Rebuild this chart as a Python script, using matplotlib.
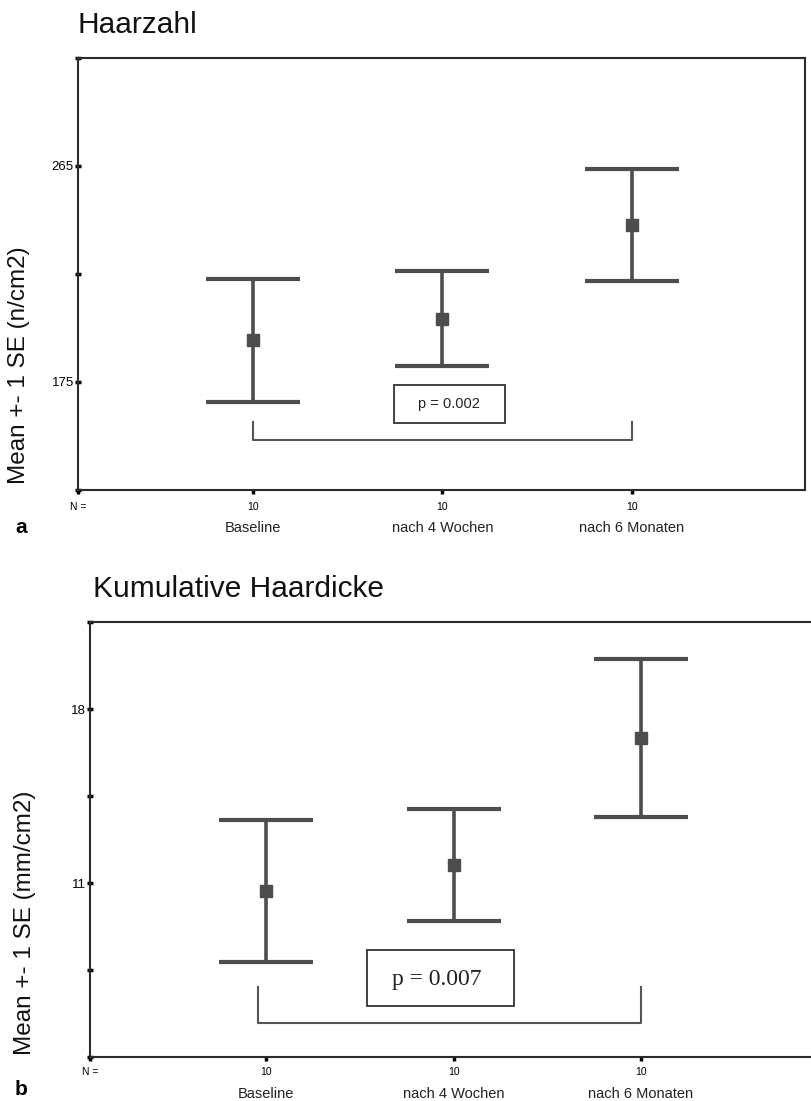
""" Mean +- 1 SE error bar charts: Haarzahl and kumulative Haardicke """

import matplotlib
matplotlib.use('Agg')
import matplotlib.pyplot as plt
from matplotlib.patches import Rectangle

plt.rcParams['font.family'] = ['Liberation Sans', 'DejaVu Sans']

categories = ['Baseline', 'nach 4 Wochen', 'nach 6 Monaten']
n_values = [10, 10, 10]

# panel a - Haarzahl (n/cm2)
haarzahl_mean = [192.3, 201.4, 240.5]
haarzahl_se = [25.5, 19.7, 23.3]
haarzahl_ticks = [130, 175, 220, 265, 310]
haarzahl_ticklabels = ['', '175', '', '265', '']
p_haarzahl = 'p = 0.002'

# panel b - kumulative Haardicke (mm/cm2)
dicke_mean = [10.67, 11.73, 16.82]
dicke_se = [2.86, 2.25, 3.18]
dicke_ticks = [4, 7.5, 11, 14.5, 18, 21.5]
dicke_ticklabels = ['', '', '11', '', '18', '']
p_dicke = 'p = 0.007'

W, H = 811, 1101
bar_col = '#4d4d4d'
spine_col = '#2b2b2b'

fig = plt.figure(figsize=(W / 100, H / 100), dpi=100)


def px_axes(left, top, right, bottom):
    return fig.add_axes([left / W, 1 - bottom / H, (right - left) / W, (bottom - top) / H])


def draw_panel(ax, means, ses, xlim, yticks, yticklabels, ylabel, label_xy, lab_pad):
    x = [1, 2, 3]
    ax.errorbar(x, means, yerr=ses, fmt='s', color=bar_col, ms=8, elinewidth=2.6,
                capsize=34, capthick=3, zorder=3)
    ax.set_xlim(*xlim)
    ax.set_ylim(yticks[0], yticks[-1])
    ax.set_yticks(yticks)
    ax.set_yticklabels(yticklabels, fontsize=9.5)
    ax.set_xticks([xlim[0]] + x)
    ax.set_xticklabels(['N ='] + [str(n) for n in n_values], fontsize=7.5)
    ax.tick_params(axis='y', direction='inout', length=4, width=2.5, pad=1, color='black')
    ax.tick_params(axis='x', direction='out', length=3, width=2.5, pad=lab_pad, color='black')
    for s in ax.spines.values():
        s.set_linewidth(1.5)
        s.set_color(spine_col)
    for xi, cat in zip(x, categories):
        ax.annotate(cat, xy=(xi, 0), xycoords=('data', 'axes fraction'),
                    xytext=(0, -27), textcoords='offset points',
                    ha='center', va='center', fontsize=10.5, color='#222222')
    ax.set_ylabel(ylabel, fontsize=17.5, color='#111111')
    ax.yaxis.set_label_coords(*label_xy)


# ---- panel a ----
ax1 = px_axes(78, 58, 805, 490)
draw_panel(ax1, haarzahl_mean, haarzahl_se, (0.079, 3.912), haarzahl_ticks,
           haarzahl_ticklabels, 'Mean +- 1 SE (n/cm2)', (-0.066, 0.289), 6)
ax1.plot([1, 1, 3, 3], [158.5, 150.8, 150.8, 158.5], color='#555555', lw=1.5, zorder=2)
ax1.add_patch(Rectangle((1.745, 157.9), 0.585, 15.85, fill=False, ec='#333333', lw=1.3))
ax1.text(2.037, 165.8, p_haarzahl, ha='center', va='center', fontsize=10.5, color='#222222')

# ---- panel b ----
ax2 = px_axes(90, 622, 817.5, 1057)
draw_panel(ax2, dicke_mean, dicke_se, (0.061, 3.941), dicke_ticks,
           dicke_ticklabels, 'Mean +- 1 SE (mm/cm2)', (-0.074, 0.308), 4)
ax2.plot([0.957, 0.957, 3, 3], [6.83, 5.36, 5.36, 6.83], color='#555555', lw=1.5, zorder=2)
ax2.add_patch(Rectangle((1.539, 6.05), 0.784, 2.25, fill=False, ec='#333333', lw=1.3))
ax2.text(1.91, 7.1, p_dicke, ha='center', va='center', fontsize=17,
         family='Liberation Serif', color='#222222')

# titles and panel letters
fig.text(78 / W, 1 - 33 / H, 'Haarzahl', fontsize=21.5, va='baseline', color='#111111')
fig.text(93 / W, 1 - 597 / H, 'Kumulative Haardicke', fontsize=21.5, va='baseline', color='#111111')
fig.text(15 / W, 1 - 533 / H, 'a', fontsize=15, fontweight='bold', va='baseline')
fig.text(15 / W, 1 - 1095 / H, 'b', fontsize=15, fontweight='bold', va='baseline')

fig.savefig('out.png', dpi=100)
